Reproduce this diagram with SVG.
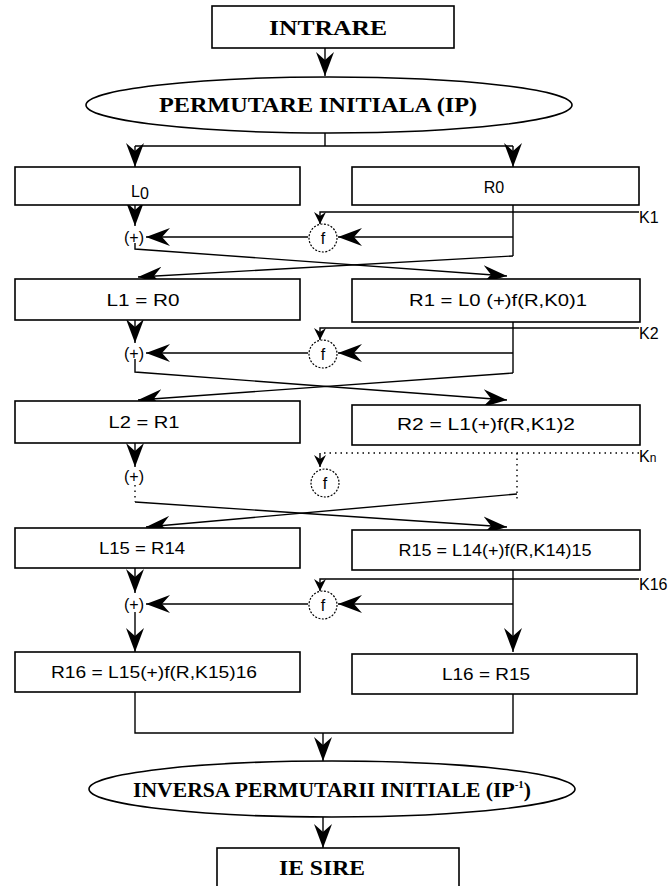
<svg xmlns="http://www.w3.org/2000/svg" width="671" height="886" viewBox="0 0 671 886">
<style>
.box{fill:#fff;stroke:#000;stroke-width:1.6}
.ell{fill:#fff;stroke:#000;stroke-width:1.6}
.ln{fill:none;stroke:#000;stroke-width:1.4}
.dot{fill:none;stroke:#000;stroke-width:1.4;stroke-dasharray:1.5 4}
.fc{fill:#fff;stroke:#000;stroke-width:1.2;stroke-dasharray:2 1.5}
.hd{font-family:"Liberation Serif",serif;font-weight:bold;font-size:20px;text-anchor:middle}
.lb{font-family:"Liberation Sans","DejaVu Sans",sans-serif;font-size:16px;text-anchor:middle}
.k{font-family:"Liberation Sans","DejaVu Sans",sans-serif;font-size:16px}
</style>
<defs>
<marker id="ar" viewBox="0 0 24 18" refX="24" refY="9" markerWidth="24" markerHeight="18" markerUnits="userSpaceOnUse" orient="auto">
<path d="M0,0 L24,9 L0,18 L8,9 z" fill="#000"/>
</marker>
<marker id="as" viewBox="0 0 12 12" refX="12" refY="6" markerWidth="12" markerHeight="12" markerUnits="userSpaceOnUse" orient="auto">
<path d="M0,0 L12,6 L0,12 L4,6 z" fill="#000"/>
</marker>
</defs>

<g id="connectors">
<path class="ln" d="M325,48 V76" marker-end="url(#ar)"/>
<path class="ln" d="M325,133 V146 M135,146 H513"/>
<path class="ln" d="M135,146 V167" marker-end="url(#ar)"/>
<path class="ln" d="M513,146 V167" marker-end="url(#ar)"/>
<!-- round 1 -->
<path class="ln" d="M135,205 V226" marker-end="url(#ar)"/>
<path class="ln" d="M639,212 H320 V224" marker-end="url(#as)"/>
<path class="ln" d="M513,205 V256"/>
<path class="ln" d="M513,237 H338" marker-end="url(#ar)"/>
<path class="ln" d="M308,237 H146" marker-end="url(#ar)"/>
<path class="ln" d="M135,243 V249 L507,276" marker-end="url(#ar)"/>
<path class="ln" d="M513,256 L138,277" marker-end="url(#ar)"/>
<!-- round 2 -->
<path class="ln" d="M135,320 V343" marker-end="url(#ar)"/>
<path class="ln" d="M639,328 H320 V340" marker-end="url(#as)"/>
<path class="ln" d="M513,322 V373"/>
<path class="ln" d="M513,353 H338" marker-end="url(#ar)"/>
<path class="ln" d="M308,353 H146" marker-end="url(#ar)"/>
<path class="ln" d="M135,359 V372 L507,400" marker-end="url(#ar)"/>
<path class="ln" d="M513,373 L138,400" marker-end="url(#ar)"/>
<!-- round n (dotted) -->
<path class="ln" d="M135,443 V467" marker-end="url(#ar)"/>
<path class="dot" d="M639,453 H320"/>
<path class="ln" d="M320,453 V467" marker-end="url(#as)"/>
<path class="dot" d="M517,453 V500"/>
<path class="dot" d="M135,485 V502"/>
<path class="ln" d="M135,502 L507,527" marker-end="url(#ar)"/>
<path class="ln" d="M517,494 L146,527" marker-end="url(#ar)"/>
<!-- round 16 -->
<path class="ln" d="M135,568 V593" marker-end="url(#ar)"/>
<path class="ln" d="M639,579 H320 V591" marker-end="url(#as)"/>
<path class="ln" d="M513,570 V652" marker-end="url(#ar)"/>
<path class="ln" d="M513,604 H338" marker-end="url(#ar)"/>
<path class="ln" d="M308,604 H146" marker-end="url(#ar)"/>
<path class="ln" d="M135,612 V652" marker-end="url(#ar)"/>
<!-- join -->
<path class="ln" d="M135,692 V733 H513 V694"/>
<path class="ln" d="M323,733 V761" marker-end="url(#ar)"/>
<path class="ln" d="M323,817 V848" marker-end="url(#ar)"/>
</g>

<g id="intrare"><rect class="box" x="212" y="6" width="242" height="42"/><text class="hd" x="328" y="35" textLength="118" lengthAdjust="spacingAndGlyphs">INTRARE</text></g>
<g id="ip"><ellipse class="ell" cx="329" cy="105" rx="243" ry="28"/><text class="hd" x="318" y="112" textLength="318" lengthAdjust="spacingAndGlyphs">PERMUTARE INITIALA (IP)</text></g>

<g id="L0"><rect class="box" x="15" y="167" width="285" height="38"/><text class="lb" x="140" y="197">L<tspan dy="2">0</tspan></text></g>
<g id="R0"><rect class="box" x="352" y="167" width="287" height="38"/><text class="lb" x="494" y="193">R0</text></g>
<g id="xor1"><text class="lb" x="134" y="243">(+)</text></g>
<g id="f1"><circle class="fc" cx="323" cy="238" r="14"/><text class="lb" x="323" y="244">f</text></g>
<g id="K1"><text class="k" x="639" y="223">K1</text></g>

<g id="L1"><rect class="box" x="15" y="279" width="285" height="41"/><text class="lb" x="143" y="306" textLength="73" lengthAdjust="spacingAndGlyphs">L1 = R0</text></g>
<g id="R1"><rect class="box" x="352" y="279" width="288" height="43"/><text class="lb" x="498" y="306" textLength="178" lengthAdjust="spacingAndGlyphs">R1 = L0 (+)f(R,K0)1</text></g>
<g id="xor2"><text class="lb" x="134" y="359">(+)</text></g>
<g id="f2"><circle class="fc" cx="323" cy="354" r="14"/><text class="lb" x="323" y="360">f</text></g>
<g id="K2"><text class="k" x="639" y="339">K2</text></g>

<g id="L2"><rect class="box" x="15" y="401" width="285" height="42"/><text class="lb" x="144" y="428" textLength="71" lengthAdjust="spacingAndGlyphs">L2 = R1</text></g>
<g id="R2"><rect class="box" x="352" y="405" width="288" height="40"/><text class="lb" x="486" y="430" textLength="178" lengthAdjust="spacingAndGlyphs">R2 = L1(+)f(R,K1)2</text></g>
<g id="xorn"><text class="lb" x="134" y="482">(+)</text></g>
<g id="fn"><circle class="fc" cx="325" cy="483" r="14"/><text class="lb" x="325" y="489">f</text></g>
<g id="Kn"><text class="k" x="639" y="462">K<tspan font-size="12">n</tspan></text></g>

<g id="L15"><rect class="box" x="15" y="528" width="285" height="40"/><text class="lb" x="142" y="554" textLength="86" lengthAdjust="spacingAndGlyphs">L15 = R14</text></g>
<g id="R15"><rect class="box" x="352" y="530" width="288" height="40"/><text class="lb" x="495" y="556" textLength="193" lengthAdjust="spacingAndGlyphs">R15 = L14(+)f(R,K14)15</text></g>
<g id="xor16"><text class="lb" x="134" y="610">(+)</text></g>
<g id="f16"><circle class="fc" cx="323" cy="605" r="14"/><text class="lb" x="323" y="611">f</text></g>
<g id="K16"><text class="k" x="639" y="590">K16</text></g>

<g id="R16"><rect class="box" x="15" y="652" width="285" height="40"/><text class="lb" x="154" y="678" textLength="206" lengthAdjust="spacingAndGlyphs">R16 = L15(+)f(R,K15)16</text></g>
<g id="L16"><rect class="box" x="352" y="654" width="285" height="40"/><text class="lb" x="486" y="680" textLength="88" lengthAdjust="spacingAndGlyphs">L16 = R15</text></g>

<g id="ipinv"><ellipse class="ell" cx="332" cy="789" rx="243" ry="28"/><text class="hd" x="332" y="797" textLength="398" lengthAdjust="spacingAndGlyphs">INVERSA PERMUTARII INITIALE (IP<tspan font-size="10" dy="-9">-1</tspan><tspan dy="9">)</tspan></text></g>
<g id="iesire"><rect class="box" x="217" y="848" width="242" height="50"/><text class="hd" x="322" y="875" textLength="86" lengthAdjust="spacingAndGlyphs">IE SIRE</text></g>
</svg>
